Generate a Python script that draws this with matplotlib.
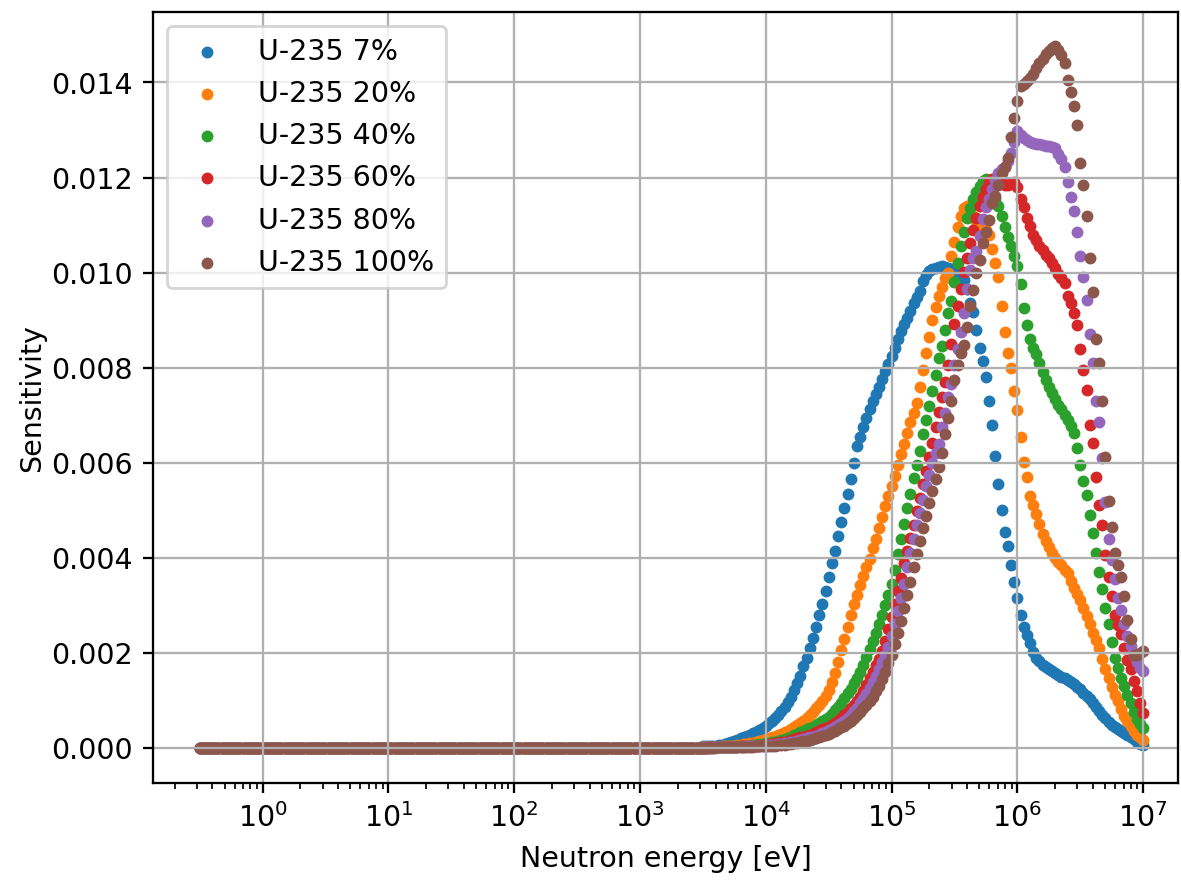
import numpy as np
import matplotlib
matplotlib.use('Agg')
import matplotlib.pyplot as plt

# energy grid: uniform lethargy, 40 points per decade from 10^-0.5 eV to 10^7 eV
energy = np.logspace(-0.5, 7.0, 301)
n_flat = 160  # points below ~3 keV where every sensitivity is ~0

labels = ['U-235 7%', 'U-235 20%', 'U-235 40%', 'U-235 60%', 'U-235 80%', 'U-235 100%']
decades = [1, 10, 100, 1e3, 1e4, 1e5, 1e6, 1e7]

# sensitivities in units of 1e-3, from log10(E) = 3.5 up to 7.0 in steps of 0.025
s7 = [0.03, 0.03, 0.04, 0.04, 0.05, 0.06, 0.07, 0.08, 0.10, 0.12,
      0.14, 0.17, 0.20, 0.22, 0.25, 0.28, 0.31, 0.34, 0.38, 0.42,
      0.47, 0.52, 0.57, 0.63, 0.70, 0.78, 0.87, 0.97, 1.08, 1.21,
      1.36, 1.52, 1.72, 1.90, 2.10, 2.32, 2.55, 2.80, 3.02, 3.30,
      3.60, 3.90, 4.15, 4.45, 4.75, 5.05, 5.35, 5.65, 6.00, 6.35,
      6.55, 6.75, 6.95, 7.12, 7.30, 7.45, 7.60, 7.76, 7.92, 8.08,
      8.25, 8.42, 8.60, 8.78, 8.92, 9.05, 9.20, 9.35, 9.48, 9.62,
      9.82, 9.95, 10.04, 10.08, 10.10, 10.12, 10.13, 10.12, 10.10, 10.07,
      10.04, 10.00, 9.97, 9.85, 9.65, 9.35, 9.18, 8.80, 8.42, 8.13,
      7.80, 7.30, 6.80, 6.15, 5.55, 5.00, 4.55, 4.25, 3.85, 3.50,
      3.15, 2.80, 2.55, 2.38, 2.20, 2.02, 1.90, 1.82, 1.75, 1.70,
      1.65, 1.61, 1.57, 1.54, 1.50, 1.47, 1.43, 1.39, 1.34, 1.29,
      1.23, 1.16, 1.09, 1.02, 0.94, 0.86, 0.77, 0.69, 0.62, 0.55,
      0.49, 0.44, 0.40, 0.35, 0.31, 0.27, 0.23, 0.18, 0.13, 0.09,
      0.06]
s20 = [0.01, 0.01, 0.01, 0.02, 0.02, 0.02, 0.03, 0.03, 0.04, 0.04,
       0.05, 0.06, 0.07, 0.08, 0.09, 0.10, 0.11, 0.13, 0.14, 0.16,
       0.18, 0.20, 0.22, 0.24, 0.27, 0.30, 0.33, 0.36, 0.40, 0.44,
       0.48, 0.52, 0.57, 0.63, 0.69, 0.75, 0.83, 0.91, 0.99, 1.10,
       1.22, 1.38, 1.58, 1.80, 2.05, 2.30, 2.55, 2.80, 3.02, 3.22,
       3.42, 3.62, 3.80, 3.98, 4.20, 4.40, 4.62, 4.85, 5.08, 5.30,
       5.50, 5.72, 5.95, 6.18, 6.40, 6.62, 6.85, 7.05, 7.25, 7.60,
       7.95, 8.30, 8.65, 9.00, 9.28, 9.50, 9.70, 9.88, 10.00, 10.35,
       10.65, 10.95, 11.18, 11.35, 11.40, 11.30, 11.18, 11.08, 11.00, 10.95,
       10.90, 10.80, 10.50, 10.20, 9.90, 9.30, 8.75, 8.30, 8.00, 7.50,
       7.10, 6.55, 6.02, 5.70, 5.30, 5.10, 4.92, 4.72, 4.50, 4.35,
       4.22, 4.10, 4.00, 3.92, 3.85, 3.75, 3.68, 3.52, 3.36, 3.24,
       3.12, 2.95, 2.78, 2.60, 2.42, 2.26, 2.10, 1.88, 1.66, 1.48,
       1.28, 1.12, 0.98, 0.82, 0.68, 0.56, 0.46, 0.36, 0.28, 0.22,
       0.17]
s40 = [0.00, 0.00, 0.01, 0.01, 0.01, 0.01, 0.01, 0.01, 0.02, 0.02,
       0.02, 0.03, 0.03, 0.04, 0.04, 0.05, 0.06, 0.07, 0.08, 0.09,
       0.10, 0.11, 0.12, 0.13, 0.15, 0.17, 0.19, 0.21, 0.24, 0.27,
       0.30, 0.33, 0.36, 0.39, 0.42, 0.45, 0.48, 0.52, 0.56, 0.61,
       0.66, 0.72, 0.79, 0.86, 0.95, 1.05, 1.15, 1.25, 1.36, 1.48,
       1.60, 1.75, 1.92, 2.08, 2.25, 2.42, 2.60, 2.80, 3.00, 3.22,
       3.45, 3.75, 4.08, 4.40, 4.72, 5.05, 5.35, 5.68, 5.95, 6.25,
       6.60, 6.90, 7.20, 7.50, 7.85, 8.20, 8.45, 8.80, 9.15, 9.40,
       9.80, 10.20, 10.55, 10.85, 11.15, 11.35, 11.55, 11.70, 11.82, 11.92,
       11.96, 11.85, 11.70, 11.55, 11.40, 11.20, 10.95, 10.75, 10.55, 10.35,
       10.13, 9.75, 9.26, 8.90, 8.60, 8.42, 8.28, 8.10, 7.90, 7.75,
       7.60, 7.46, 7.33, 7.22, 7.12, 7.01, 6.90, 6.78, 6.63, 6.30,
       5.95, 5.62, 5.33, 4.91, 4.53, 4.10, 3.71, 3.35, 2.95, 2.60,
       2.22, 1.90, 1.68, 1.48, 1.30, 1.12, 0.94, 0.75, 0.60, 0.50,
       0.42]
s60 = [0.00, 0.00, 0.01, 0.01, 0.01, 0.01, 0.01, 0.01, 0.02, 0.02,
       0.02, 0.02, 0.03, 0.03, 0.03, 0.04, 0.04, 0.05, 0.05, 0.06,
       0.07, 0.08, 0.09, 0.10, 0.11, 0.12, 0.13, 0.15, 0.16, 0.18,
       0.20, 0.22, 0.24, 0.26, 0.28, 0.30, 0.33, 0.36, 0.39, 0.42,
       0.45, 0.48, 0.52, 0.57, 0.63, 0.69, 0.76, 0.83, 0.91, 0.99,
       1.08, 1.20, 1.33, 1.47, 1.60, 1.74, 1.88, 2.03, 2.25, 2.50,
       2.75, 3.02, 3.30, 3.58, 3.88, 4.15, 4.42, 4.70, 4.98, 5.25,
       5.55, 5.82, 6.12, 6.42, 6.75, 7.07, 7.39, 7.70, 8.05, 8.50,
       8.91, 9.30, 9.65, 10.02, 10.30, 10.62, 10.90, 11.15, 11.40, 11.60,
       11.75, 11.90, 11.96, 11.95, 11.90, 11.88, 11.85, 11.85, 11.88, 11.90,
       11.80, 11.55, 11.37, 11.15, 10.98, 10.80, 10.68, 10.56, 10.48, 10.38,
       10.30, 10.20, 10.10, 9.98, 9.88, 9.78, 9.50, 9.35, 9.15, 8.90,
       8.40, 7.95, 7.54, 6.80, 6.42, 5.70, 5.10, 4.70, 4.06, 3.60,
       3.20, 2.80, 2.58, 2.40, 2.10, 1.85, 1.65, 1.40, 1.20, 0.95,
       0.74]
s80 = [0.00, 0.00, 0.00, 0.00, 0.01, 0.01, 0.01, 0.01, 0.01, 0.01,
       0.02, 0.02, 0.02, 0.02, 0.03, 0.03, 0.03, 0.04, 0.04, 0.04,
       0.05, 0.06, 0.06, 0.07, 0.08, 0.09, 0.10, 0.11, 0.12, 0.13,
       0.15, 0.16, 0.18, 0.20, 0.22, 0.24, 0.26, 0.28, 0.31, 0.34,
       0.37, 0.40, 0.44, 0.48, 0.52, 0.57, 0.63, 0.70, 0.77, 0.85,
       0.94, 1.03, 1.14, 1.26, 1.38, 1.51, 1.65, 1.80, 1.95, 2.12,
       2.35, 2.60, 2.88, 3.16, 3.45, 3.80, 4.10, 4.40, 4.68, 4.95,
       5.22, 5.50, 5.75, 6.00, 6.20, 6.40, 6.76, 7.05, 7.39, 7.65,
       8.05, 8.40, 8.75, 9.15, 9.65, 10.05, 10.30, 10.45, 10.76, 11.12,
       11.38, 11.54, 11.75, 11.95, 12.10, 12.18, 12.23, 12.35, 12.52, 12.74,
       12.97, 12.90, 12.84, 12.78, 12.74, 12.72, 12.71, 12.70, 12.68, 12.67,
       12.66, 12.65, 12.63, 12.50, 12.38, 12.23, 11.90, 11.60, 11.30, 10.85,
       10.35, 9.90, 9.43, 8.70, 8.10, 7.30, 6.85, 6.10, 5.18, 4.40,
       3.95, 3.55, 3.16, 2.90, 2.60, 2.35, 2.15, 1.95, 1.80, 1.68,
       1.62]
s100 = [0.00, 0.00, 0.00, 0.00, 0.00, 0.01, 0.01, 0.01, 0.01, 0.01,
        0.01, 0.01, 0.02, 0.02, 0.02, 0.02, 0.02, 0.03, 0.03, 0.03,
        0.04, 0.04, 0.05, 0.05, 0.06, 0.07, 0.07, 0.08, 0.09, 0.10,
        0.11, 0.12, 0.14, 0.15, 0.17, 0.19, 0.21, 0.23, 0.25, 0.27,
        0.30, 0.33, 0.36, 0.39, 0.43, 0.47, 0.52, 0.57, 0.63, 0.69,
        0.76, 0.83, 0.91, 0.99, 1.08, 1.19, 1.31, 1.45, 1.60, 1.78,
        1.96, 2.18, 2.42, 2.68, 2.95, 3.22, 3.50, 3.80, 4.08, 4.35,
        4.62, 4.88, 5.15, 5.40, 5.65, 5.90, 6.20, 6.60, 6.95, 7.30,
        7.75, 8.05, 8.30, 8.48, 8.85, 9.30, 9.64, 10.00, 10.27, 10.63,
        10.85, 11.10, 11.47, 11.62, 11.85, 12.10, 12.22, 12.40, 12.85, 13.25,
        13.60, 13.92, 13.97, 14.02, 14.10, 14.18, 14.30, 14.40, 14.50, 14.60,
        14.67, 14.72, 14.76, 14.68, 14.58, 14.40, 14.05, 13.80, 13.50, 13.10,
        12.30, 11.85, 11.18, 10.30, 9.60, 8.60, 8.10, 7.30, 6.13, 5.20,
        4.65, 4.10, 3.85, 3.60, 3.20, 2.70, 2.30, 1.96, 1.95, 2.00,
        2.04]

series = [s7, s20, s40, s60, s80, s100]

dpi = 205
fig = plt.figure(figsize=(1181.4 / dpi, 883.4 / dpi), dpi=dpi)
ax = fig.add_axes([153 / 1181, 100 / 883, 1025 / 1181, 771 / 883])

for lab, s in zip(labels, series):
    y = np.concatenate([np.zeros(n_flat), np.array(s) * 1e-3])
    ax.scatter(energy, y, s=10, label=lab)

ax.set_xscale('log')
ax.set_xticks(decades)
ax.set_xlim(10 ** -0.87, 10 ** 7.28)
ax.set_ylim(-0.000737, 0.01549)
ax.set_xlabel('Neutron energy [eV]')
ax.set_ylabel('Sensitivity', labelpad=2)
ax.grid()
ax.legend(loc='upper left')

fig.savefig('out.png', dpi=dpi)
